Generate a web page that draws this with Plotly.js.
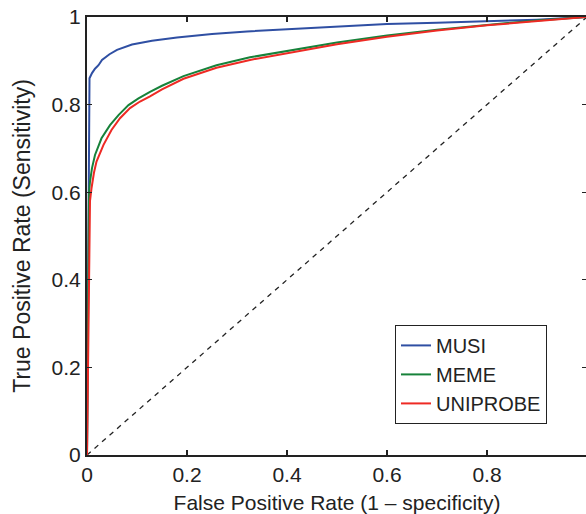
<!DOCTYPE html>
<html>
<head>
<meta charset="utf-8">
<script src="https://cdn.plot.ly/plotly-3.0.1.min.js"></script>
<style>
html,body{margin:0;padding:0;overflow:hidden;background:#fff;}
#chart{width:588px;height:514px;}
</style>
</head>
<body>
<div id="chart"></div>
<script>
// Data
var musiFpr = [0, 0.003, 0.005, 0.01, 0.016, 0.023, 0.03, 0.045, 0.06, 0.09, 0.13, 0.18, 0.25, 0.32, 0.4, 0.5, 0.6, 0.7, 0.8, 0.9, 1.0];
var musiTpr = [0, 0.6, 0.86, 0.872, 0.882, 0.89, 0.902, 0.915, 0.925, 0.937, 0.946, 0.953, 0.961, 0.967, 0.972, 0.978, 0.984, 0.987, 0.99, 0.994, 1.0];

var memeFpr = [0, 0.002, 0.004, 0.006, 0.01, 0.016, 0.029, 0.046, 0.063, 0.083, 0.103, 0.126, 0.15, 0.193, 0.259, 0.326, 0.4, 0.5, 0.6, 0.7, 0.8, 0.9, 1.0];
var memeTpr = [0, 0.35, 0.6, 0.624, 0.655, 0.685, 0.723, 0.753, 0.776, 0.799, 0.814, 0.829, 0.843, 0.865, 0.89, 0.908, 0.923, 0.942, 0.958, 0.971, 0.982, 0.992, 1.0];

var uniFpr = [0, 0.003, 0.006, 0.009, 0.014, 0.019, 0.033, 0.049, 0.066, 0.086, 0.106, 0.126, 0.15, 0.193, 0.259, 0.326, 0.4, 0.5, 0.6, 0.7, 0.8, 0.9, 1.0];
var uniTpr = [0, 0.35, 0.58, 0.609, 0.645, 0.67, 0.708, 0.742, 0.769, 0.792, 0.807, 0.819, 0.835, 0.859, 0.884, 0.902, 0.918, 0.938, 0.955, 0.969, 0.981, 0.991, 1.0];

var chanceX = [0, 1];
var chanceY = [0, 1];

var seriesNames = ['MUSI', 'MEME', 'UNIPROBE'];
var xTicks = [0, 0.2, 0.4, 0.6, 0.8];
var xTickText = ['0', '0.2', '0.4', '0.6', '0.8'];
var yTicks = [0, 0.2, 0.4, 0.6, 0.8, 1];
var yTickText = ['0', '0.2', '0.4', '0.6', '0.8', '1'];

var FONT = '"Liberation Sans", Arial, Helvetica, sans-serif';

var traces = [
  {x: chanceX, y: chanceY, mode: 'lines', showlegend: false, hoverinfo: 'skip',
   line: {color: '#222', width: 1.3, dash: '5px,5px'}},
  {x: musiFpr, y: musiTpr, mode: 'lines', name: seriesNames[0],
   line: {color: '#2f4fa3', width: 2}},
  {x: memeFpr, y: memeTpr, mode: 'lines', name: seriesNames[1],
   line: {color: '#17823a', width: 2}},
  {x: uniFpr, y: uniTpr, mode: 'lines', name: seriesNames[2],
   line: {color: '#ee2a24', width: 2}}
];

var layout = {
  width: 588, height: 514,
  margin: {l: 87, r: 1, t: 17, b: 59, pad: 0},
  paper_bgcolor: '#fff', plot_bgcolor: '#fff',
  font: {family: FONT, color: '#222', size: 21},
  showlegend: true,
  legend: {
    x: 0.616, y: 0.297, xanchor: 'left', yanchor: 'top',
    bgcolor: '#fff', bordercolor: '#222', borderwidth: 1,
    font: {family: FONT, size: 20, color: '#222'},
    itemwidth: 30, tracegroupgap: 0
  },
  xaxis: {
    range: [0, 1], autorange: false,
    tickvals: xTicks, ticktext: xTickText,
    ticks: 'inside', ticklen: 5, tickwidth: 1.2, tickcolor: '#222',
    showline: true, linecolor: '#222', linewidth: 2, mirror: 'allticks',
    showgrid: false, zeroline: false,
    tickfont: {family: FONT, size: 21, color: '#222'},
    title: {text: 'False Positive Rate (1 \u2013 specificity)', font: {family: FONT, size: 21, color: '#222'}, standoff: 12},
    automargin: false, fixedrange: true
  },
  yaxis: {
    range: [0, 1], autorange: false,
    tickvals: yTicks, ticktext: yTickText,
    ticks: 'inside', ticklen: 5, tickwidth: 1.2, tickcolor: '#222',
    showline: true, linecolor: '#222', linewidth: 2, mirror: 'allticks',
    showgrid: false, zeroline: false,
    tickfont: {family: FONT, size: 21, color: '#222'},
    title: {text: 'True Positive Rate (Sensitivity)', font: {family: FONT, size: 23, color: '#222'}, standoff: 15},
    automargin: false, fixedrange: true
  }
};

Plotly.newPlot('chart', traces, layout, {displayModeBar: false, staticPlot: true});
</script>
</body>
</html>
